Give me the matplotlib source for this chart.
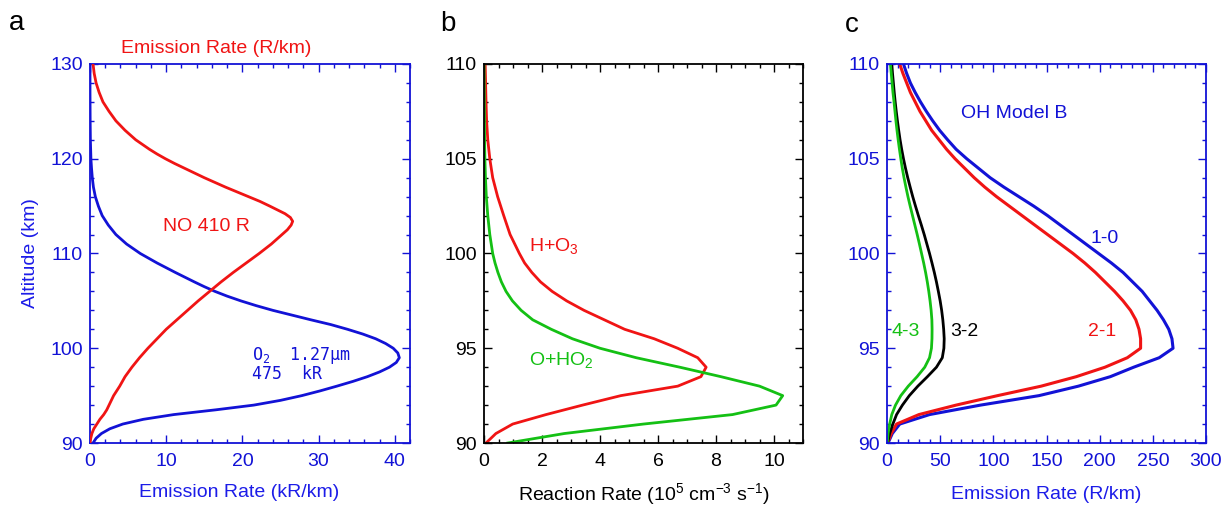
import matplotlib
matplotlib.use('Agg')
import matplotlib.pyplot as plt
from matplotlib.ticker import MultipleLocator

plt.rcParams['font.family'] = ['Liberation Sans', 'DejaVu Sans']
plt.rcParams['mathtext.default'] = 'regular'

BLUE = '#1212d6'
BLUE_TXT = '#1c1ce8'
RED = '#f01414'
GREEN = '#14c014'

# ---- panel a: O2 1.27 um (kR/km) and NO (R/km)
alt_o2 = [90.0, 90.5, 91.0, 91.5, 92.0, 92.5, 93.0, 93.5, 94.0, 94.5, 95.0, 95.5, 96.0,
          96.5, 97.0, 97.5, 98.0, 98.5, 99.0, 99.5, 100.0, 100.5, 101.0, 101.5, 102.0,
          102.5, 103.0, 103.5, 104.0, 104.5, 105.0, 105.5, 106.0, 106.5, 107.0, 108.0,
          109.0, 110.0, 111.0, 112.0, 113.0, 114.0, 115.0, 116.0, 117.0, 118.0, 119.0,
          120.0, 122.0, 124.0, 127.0, 130.0]
o2_rate = [0.4, 0.8, 1.5, 2.6, 4.3, 7.0, 11.0, 16.5, 21.5, 25.0, 27.8, 30.2, 32.4,
           34.5, 36.4, 38.0, 39.3, 40.2, 40.6, 40.4, 39.8, 38.8, 37.5, 35.8, 33.8,
           31.6, 29.0, 26.5, 24.0, 21.8, 19.8, 18.0, 16.4, 15.0, 13.7, 11.2,
           8.8, 6.6, 4.8, 3.4, 2.4, 1.6, 1.1, 0.7, 0.45, 0.3, 0.2,
           0.12, 0.05, 0.02, 0.0, 0.0]

alt_no = [90.0, 90.5, 91.0, 91.5, 92.0, 92.5, 93.0, 93.5, 94.0, 94.5, 95.0, 95.5, 96.0,
          97.0, 98.0, 99.0, 100.0, 101.0, 102.0, 103.0, 104.0, 105.0, 106.0, 107.0,
          108.0, 109.0, 110.0, 111.0, 112.0, 112.5, 113.0, 113.4, 113.8, 114.2, 114.6,
          115.0, 115.5, 116.0, 116.5, 117.0, 117.5, 118.0, 118.5, 119.0, 119.5, 120.0,
          120.5, 121.0, 121.5, 122.0, 123.0, 124.0, 125.0, 126.0, 127.0, 128.0, 129.0,
          130.0]
no_rate = [0.0, 0.1, 0.25, 0.5, 0.9, 1.3, 1.8, 2.2, 2.5, 2.8, 3.1, 3.5, 3.9,
           4.6, 5.5, 6.5, 7.6, 8.8, 10.0, 11.4, 12.8, 14.2, 15.7, 17.2,
           18.8, 20.5, 22.2, 23.8, 25.2, 25.9, 26.4, 26.6, 26.3, 25.6, 24.6,
           23.6, 22.3, 20.8, 19.3, 17.8, 16.4, 15.0, 13.7, 12.4, 11.1, 9.9,
           8.8, 7.8, 6.9, 6.0, 4.6, 3.4, 2.5, 1.7, 1.2, 0.8, 0.55,
           0.4]

# ---- panel b: reaction rates (1e5 cm-3 s-1)
alt_h_o3 = [90.0, 90.5, 91.0, 91.5, 92.0, 92.5, 93.0, 93.5, 94.0, 94.5, 95.0, 95.5,
            96.0, 96.5, 97.0, 97.5, 98.0, 98.5, 99.0, 99.5, 100.0, 101.0, 102.0, 103.0,
            104.0, 105.0, 106.0, 107.0, 108.0, 110.0]
h_o3 = [0.07, 0.41, 0.99, 2.14, 3.4, 4.72, 6.68, 7.48, 7.66, 7.37, 6.68, 5.87,
        4.85, 4.15, 3.45, 2.85, 2.35, 1.95, 1.65, 1.4, 1.22, 0.9, 0.68, 0.47,
        0.3, 0.2, 0.13, 0.09, 0.07, 0.04]

alt_o_ho2 = [90.0, 90.5, 91.0, 91.5, 92.0, 92.5, 93.0, 93.5, 94.0, 94.5, 95.0, 95.5,
             96.0, 96.5, 97.0, 97.5, 98.0, 98.5, 99.0, 99.5, 100.0, 101.0, 102.0, 103.0,
             104.0, 105.0, 106.0, 108.0, 110.0]
o_ho2 = [0.82, 2.77, 5.5, 8.57, 10.07, 10.3, 9.5, 8.17, 6.75, 5.25, 4.0, 3.05,
         2.32, 1.68, 1.28, 0.98, 0.76, 0.6, 0.48, 0.38, 0.3, 0.2, 0.13, 0.08,
         0.05, 0.03, 0.02, 0.01, 0.0]

# ---- panel c: OH Model B emission rates (R/km), 0.5 km altitude grid
alt_oh = [90.0, 90.5, 91.0, 91.5, 92.0, 92.5, 93.0, 93.5, 94.0, 94.5, 95.0, 95.5,
          96.0, 96.5, 97.0, 97.5, 98.0, 98.5, 99.0, 99.5, 100.0, 100.5, 101.0, 101.5,
          102.0, 102.5, 103.0, 103.5, 104.0, 104.5, 105.0, 105.5, 106.0, 106.5, 107.0,
          107.5, 108.0, 108.5, 109.0, 109.5, 110.0]
oh_10 = [1, 5, 12, 40, 88, 143, 180, 210, 232, 256, 269, 268,
         265, 260, 254, 247, 240, 231, 222, 211, 199, 187, 175, 163,
         151, 138, 124, 110, 97, 86, 75, 65, 57, 49.5, 43,
         37, 31.5, 26.5, 22, 18.5, 15.5]
oh_21 = [0.5, 4, 9, 30, 65, 104, 145, 178, 205, 226, 238.5, 238.5,
         237, 234, 229, 222, 214, 205, 196, 186, 175, 163, 151, 139,
         127, 115, 103, 92, 82, 73, 64, 56, 49, 42, 36.5,
         31, 26.5, 22, 18.5, 15, 12]
oh_32 = [0.5, 2.5, 5.5, 9, 14.5, 21, 29, 38, 46.5, 52, 53.5, 53.8,
         53.3, 52.5, 51.4, 50, 48.3, 46.5, 44.5, 42.3, 40, 37.5, 35, 32.3,
         29.5, 26.8, 24.2, 21.8, 19.5, 17.4, 15.5, 13.8, 12.3, 11, 9.8,
         8.7, 7.7, 6.8, 6.0, 5.2, 4.5]
oh_43 = [0.3, 1.0, 2.5, 4.5, 8, 13, 20, 28.3, 35.5, 40, 41.8, 42.3,
         42.4, 42.2, 41.5, 40.5, 39.3, 37.9, 36.3, 34.5, 32.5, 30.5, 28.4, 26.2,
         24, 21.8, 19.7, 17.8, 16, 14.4, 13, 11.7, 10.5, 9.4, 8.4,
         7.5, 6.6, 5.6, 4.8, 4.0, 3.2]

FS = 14


def style_axis(ax, color, xmaj, xmin, ymaj, ymin):
    for sp in ax.spines.values():
        sp.set_color(color)
        sp.set_linewidth(1.3)
    ax.xaxis.set_major_locator(MultipleLocator(xmaj))
    ax.xaxis.set_minor_locator(MultipleLocator(xmin))
    ax.yaxis.set_major_locator(MultipleLocator(ymaj))
    ax.yaxis.set_minor_locator(MultipleLocator(ymin))
    ax.tick_params(which='both', direction='in', top=True, right=True,
                   colors=color, labelcolor=color, labelsize=FS, width=1.0)
    ax.tick_params(which='major', length=5.5)
    ax.tick_params(which='minor', length=2.8)
    ax.tick_params(axis='x', pad=7)
    ax.tick_params(axis='y', pad=5)


fig = plt.figure(figsize=(12.3, 5.11), dpi=100)
W, H = 1230.0, 511.0
bottom = 1 - 443 / H
height = (443 - 64) / H

# panel a
ax1 = fig.add_axes([90 / W, bottom, (410 - 90) / W, height])
ax1.plot(o2_rate, alt_o2, color=BLUE, lw=2.0)
ax1.set_xlim(0, 42)
ax1.set_ylim(90, 130)
style_axis(ax1, BLUE, 10, 2, 10, 2)
ax1.set_xlabel('Emission Rate (kR/km)', color=BLUE_TXT, fontsize=FS)
ax1.xaxis.set_label_coords(0.466, -0.108)
ax1.set_ylabel('Altitude (km)', color=BLUE_TXT, fontsize=FS, labelpad=8)
ax1.text(21.3, 99.2, 'O$_2$  1.27$\\mu$m', color=BLUE, fontsize=12,
         family='DejaVu Sans Mono', va='center')
ax1.text(21.3, 97.3, '475  kR', color=BLUE, fontsize=12,
         family='DejaVu Sans Mono', va='center')

ax1t = ax1.twiny()
ax1t.plot(no_rate, alt_no, color=RED, lw=2.0)
ax1t.set_xlim(0, 42)
ax1t.xaxis.set_major_locator(MultipleLocator(10))
ax1t.xaxis.set_minor_locator(MultipleLocator(2))
ax1t.tick_params(which='both', direction='in', colors=BLUE, labeltop=False, width=1.0)
ax1t.tick_params(which='major', length=5.5)
ax1t.tick_params(which='minor', length=2.8)
for sp in ax1t.spines.values():
    sp.set_visible(False)
ax1t.text(0.394, 1.042, 'Emission Rate (R/km)', color=RED, fontsize=FS,
          ha='center', va='center', transform=ax1t.transAxes)
ax1t.text(9.6, 112.8, 'NO 410 R', color=RED, fontsize=FS, va='center')

# panel b
ax2 = fig.add_axes([484 / W, bottom, (803 - 484) / W, height])
ax2.plot(h_o3, alt_h_o3, color=RED, lw=2.0)
ax2.plot(o_ho2, alt_o_ho2, color=GREEN, lw=2.0)
ax2.set_xlim(0, 11)
ax2.set_ylim(90, 110)
style_axis(ax2, 'black', 2, 0.5, 5, 1)
ax2.set_xlabel('Reaction Rate (10$^5$ cm$^{-3}$ s$^{-1}$)', fontsize=FS, labelpad=8)
ax2.text(1.55, 100.4, 'H+O$_3$', color=RED, fontsize=FS, va='center')
ax2.text(1.55, 94.4, 'O+HO$_2$', color=GREEN, fontsize=FS, va='center')

# panel c
ax3 = fig.add_axes([887 / W, bottom, (1206 - 887) / W, height])
ax3.plot(oh_10, alt_oh, color=BLUE, lw=2.2)
ax3.plot(oh_21, alt_oh, color=RED, lw=2.2)
ax3.plot(oh_32, alt_oh, color='black', lw=2.0)
ax3.plot(oh_43, alt_oh, color=GREEN, lw=2.0)
ax3.set_xlim(0, 300)
ax3.set_ylim(90, 110)
style_axis(ax3, BLUE, 50, 10, 5, 1)
ax3.set_xlabel('Emission Rate (R/km)', color=BLUE_TXT, fontsize=FS, labelpad=12)
ax3.text(70, 107.4, 'OH Model B', color=BLUE, fontsize=FS, va='center')
ax3.text(191, 100.8, '1-0', color=BLUE, fontsize=FS, va='center')
ax3.text(189, 95.9, '2-1', color=RED, fontsize=FS, va='center')
ax3.text(59, 95.9, '3-2', color='black', fontsize=FS, va='center')
ax3.text(4.4, 95.9, '4-3', color=GREEN, fontsize=FS, va='center')

# panel letters
fig.text(9 / W, 1 - 23 / H, 'a', fontsize=20, va='center')
fig.text(440 / W, 1 - 24 / H, 'b', fontsize=20, va='center')
fig.text(845 / W, 1 - 25 / H, 'c', fontsize=20, va='center')

fig.savefig('out.png', dpi=100)
